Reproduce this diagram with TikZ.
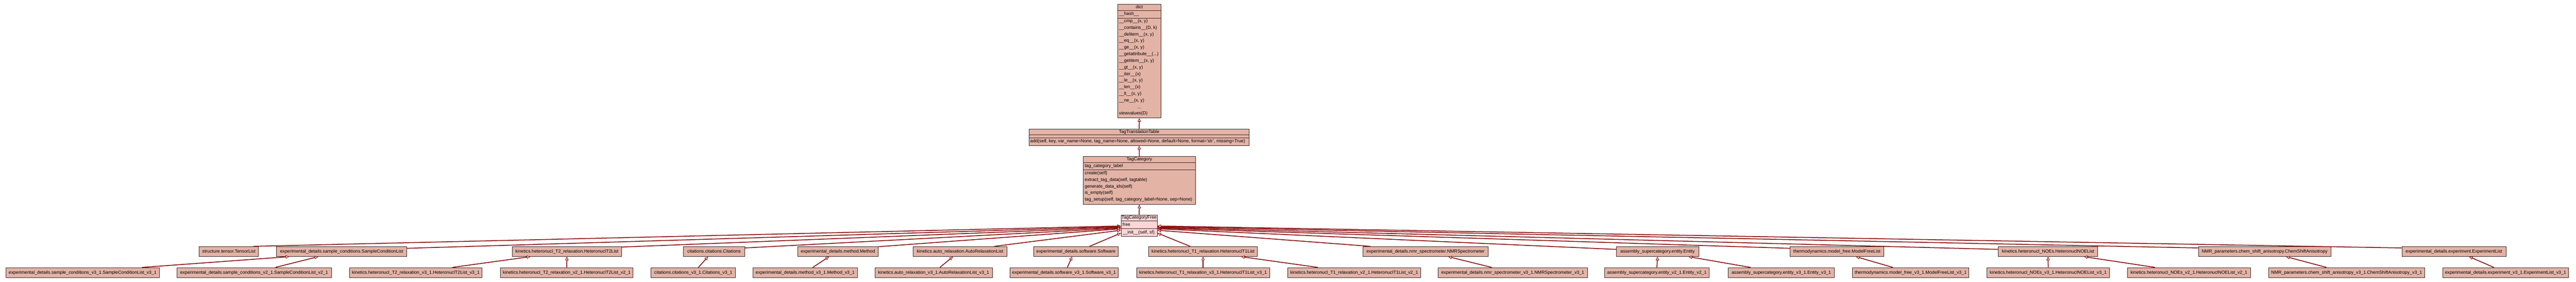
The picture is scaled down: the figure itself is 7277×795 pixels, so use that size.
\documentclass[tikz,border=0pt]{standalone}
\usepackage{fontspec}
\setmainfont{Liberation Sans}
\usetikzlibrary{arrows.meta}

\definecolor{clsfill}{HTML}{E3B3A6}
\definecolor{freefill}{HTML}{FFD5D5}
\definecolor{edgered}{HTML}{850000}
\definecolor{boxline}{HTML}{3A2E2E}

\begin{document}
\begin{tikzpicture}[x=1pt,y=-1pt,
  cls/.style={draw=boxline,line width=1.2pt,fill=clsfill,inner sep=0pt,minimum height=28pt,font=\fontsize{12.8}{15}\selectfont},
  umlbox/.style={draw=boxline,line width=1.2pt,fill=clsfill,inner sep=0pt},
  member/.style={anchor=west,inner sep=0pt,text height=9pt,text depth=3pt,font=\fontsize{12.8}{15}\selectfont},
  clsname/.style={member,anchor=center},
  divider/.style={draw=boxline,line width=1.2pt},
  inh/.style={draw=edgered,line width=2.2pt,-{Triangle[fill=white,length=10pt,width=9pt,line width=1.3pt]}}]
\useasboundingbox[fill=white] (0,0) rectangle (7277,795);

% dict
\node[umlbox,minimum width=123pt,minimum height=321pt] (dict) at (3218.5,172.5) {};
\draw[divider] (3157,29) -- (3280,29);
\draw[divider] (3157,51) -- (3280,51);
\node[clsname] (dictname) at (3218.5,20.5) {dict};
\node[member] (dicta1) at (3161,40) {\_\_hash\_\_};
\node[member] (dictm1) at (3161,60) {\_\_cmp\_\_(x, y)};
\node[member] (dictm2) at (3161,79) {\_\_contains\_\_(D, k)};
\node[member] (dictm3) at (3161,97.5) {\_\_delitem\_\_(x, y)};
\node[member] (dictm4) at (3161,116) {\_\_eq\_\_(x, y)};
\node[member] (dictm5) at (3161,135) {\_\_ge\_\_(x, y)};
\node[member] (dictm6) at (3161,153.5) {\_\_getattribute\_\_(...)};
\node[member] (dictm7) at (3161,172) {\_\_getitem\_\_(x, y)};
\node[member] (dictm8) at (3161,191) {\_\_gt\_\_(x, y)};
\node[member] (dictm9) at (3161,209.5) {\_\_iter\_\_(x)};
\node[member] (dictm10) at (3161,228) {\_\_le\_\_(x, y)};
\node[member] (dictm11) at (3161,247) {\_\_len\_\_(x)};
\node[member] (dictm12) at (3161,265.5) {\_\_lt\_\_(x, y)};
\node[member] (dictm13) at (3161,284) {\_\_ne\_\_(x, y)};
\node[clsname] (dictdots) at (3218.5,303) {...};
\node[member] (dictm14) at (3161,321.5) {viewvalues(D)};

% TagTranslationTable
\node[umlbox,minimum width=622pt,minimum height=47pt] (ttt) at (3218,387.5) {};
\draw[divider] (2907,381) -- (3529,381);
\draw[divider] (2907,389) -- (3529,389);
\node[clsname] (tttname) at (3218,372.5) {TagTranslationTable};
\node[member] (tttm1) at (2910,400) {add(self, key, var\_name=None, tag\_name=None, allowed=None, default=None, format='str', missing=True)};

% TagCategory
\node[umlbox,minimum width=317pt,minimum height=135pt] (tagcat) at (3218.5,509.5) {};
\draw[divider] (3060,459) -- (3377,459);
\draw[divider] (3060,480) -- (3377,480);
\node[clsname] (tagcatname) at (3218.5,450.5) {TagCategory};
\node[member] (tagcata1) at (3064,469.5) {tag\_category\_label};
\node[member] (tagcatm1) at (3064,490) {create(self)};
\node[member] (tagcatm2) at (3064,508.5) {extract\_tag\_data(self, tagtable)};
\node[member] (tagcatm3) at (3064,527) {generate\_data\_ids(self)};
\node[member] (tagcatm4) at (3064,545.5) {is\_empty(self)};
\node[member] (tagcatm5) at (3064,564) {tag\_setup(self, tag\_category\_label=None, sep=None)};

% TagCategoryFree
\node[umlbox,fill=freefill,minimum width=102pt,minimum height=60pt] (free) at (3218,637) {};
\draw[divider] (3167,624) -- (3269,624);
\draw[divider] (3167,646) -- (3269,646);
\node[clsname] (freename) at (3218,615.5) {TagCategoryFree};
\node[member] (freea1) at (3171,635) {free};
\node[member] (freem1) at (3171,656.5) {\_\_init\_\_(self, sf)};

\draw[inh] (ttt.north) -- (dict.south);
\draw[inh] (tagcat.north) -- (ttt.south);
\draw[inh] (free.north) -- (tagcat.south);

% first row
\node[cls,minimum width=167pt] (tensor) at (646.5,710) {structure.tensor.TensorList};
\node[cls,minimum width=368pt] (sample) at (965,710) {experimental\_details.sample\_conditions.SampleConditionList};
\node[cls,minimum width=309pt] (htwo) at (1601.5,710) {kinetics.heteronucl\_T2\_relaxation.HeteronuclT2List};
\node[cls,minimum width=172pt] (cite) at (2017,710) {citations.citations.Citations};
\node[cls,minimum width=228pt] (method) at (2367,710) {experimental\_details.method.Method};
\node[cls,minimum width=264pt] (auto) at (2712,710) {kinetics.auto\_relaxation.AutoRelaxationList};
\node[cls,minimum width=239pt] (soft) at (3039.5,710) {experimental\_details.software.Software};
\node[cls,minimum width=307pt] (hone) at (3398.5,710) {kinetics.heteronucl\_T1\_relaxation.HeteronuclT1List};
\node[cls,minimum width=354pt] (nmr) at (4027,710) {experimental\_details.nmr\_spectrometer.NMRSpectrometer};
\node[cls,minimum width=233pt] (entity) at (4682.5,710) {assembly\_supercategory.entity.Entity};
\node[cls,minimum width=264pt] (mfree) at (5189,710) {thermodynamics.model\_free.ModelFreeList};
\node[cls,minimum width=281pt] (noe) at (5785.5,710) {kinetics.heteronucl\_NOEs.HeteronuclNOEList};
\node[cls,minimum width=375pt] (csa) at (6397.5,710) {NMR\_parameters.chem\_shift\_anisotropy.ChemShiftAnisotropy};
\node[cls,minimum width=294pt] (expt) at (6932,710) {experimental\_details.experiment.ExperimentList};

% second row
\node[cls,minimum width=435pt] (samplethree) at (233.5,769.5) {experimental\_details.sample\_conditions\_v3\_1.SampleConditionList\_v3\_1};
\node[cls,minimum width=436pt] (sampletwo) at (718,769.5) {experimental\_details.sample\_conditions\_v2\_1.SampleConditionList\_v2\_1};
\node[cls,minimum width=375pt] (htwothree) at (1174.5,769.5) {kinetics.heteronucl\_T2\_relaxation\_v3\_1.HeteronuclT2List\_v3\_1};
\node[cls,minimum width=374pt] (htwotwo) at (1601,769.5) {kinetics.heteronucl\_T2\_relaxation\_v2\_1.HeteronuclT2List\_v2\_1};
\node[cls,minimum width=239pt] (citethree) at (1958.5,769.5) {citations.citations\_v3\_1.Citations\_v3\_1};
\node[cls,minimum width=295pt] (methodthree) at (2274.5,769.5) {experimental\_details.method\_v3\_1.Method\_v3\_1};
\node[cls,minimum width=331pt] (autothree) at (2637.5,769.5) {kinetics.auto\_relaxation\_v3\_1.AutoRelaxationList\_v3\_1};
\node[cls,minimum width=306pt] (softthree) at (3006,769.5) {experimental\_details.software\_v3\_1.Software\_v3\_1};
\node[cls,minimum width=375pt] (honethree) at (3398.5,769.5) {kinetics.heteronucl\_T1\_relaxation\_v3\_1.HeteronuclT1List\_v3\_1};
\node[cls,minimum width=375pt] (honetwo) at (3825.5,769.5) {kinetics.heteronucl\_T1\_relaxation\_v2\_1.HeteronuclT1List\_v2\_1};
\node[cls,minimum width=421pt] (nmrthree) at (4273.5,769.5) {experimental\_details.nmr\_spectrometer\_v3\_1.NMRSpectrometer\_v3\_1};
\node[cls,minimum width=295pt] (entitytwo) at (4680.5,769.5) {assembly\_supercategory.entity\_v2\_1.Entity\_v2\_1};
\node[cls,minimum width=300pt] (entitythree) at (5032,769.5) {assembly\_supercategory.entity\_v3\_1.Entity\_v3\_1};
\node[cls,minimum width=329pt] (mfreethree) at (5397.5,769.5) {thermodynamics.model\_free\_v3\_1.ModelFreeList\_v3\_1};
\node[cls,minimum width=346pt] (noethree) at (5786,769.5) {kinetics.heteronucl\_NOEs\_v3\_1.HeteronuclNOEList\_v3\_1};
\node[cls,minimum width=347pt] (noetwo) at (6183.5,769.5) {kinetics.heteronucl\_NOEs\_v2\_1.HeteronuclNOEList\_v2\_1};
\node[cls,minimum width=442pt] (csathree) at (6629,769.5) {NMR\_parameters.chem\_shift\_anisotropy\_v3\_1.ChemShiftAnisotropy\_v3\_1};
\node[cls,minimum width=354pt] (exptthree) at (7078,769.5) {experimental\_details.experiment\_v3\_1.ExperimentList\_v3\_1};

% first row to TagCategoryFree
\draw[inh] ([xshift=69.5pt]tensor.north) -- ([yshift=-1pt]free.west);
\draw[inh] ([yshift=9pt]sample.east) -- ([yshift=-3pt]free.west);
\draw[inh] ([yshift=-2pt]htwo.north east) -- ([yshift=-5pt]free.west);
\draw[inh] ([yshift=10pt]cite.east) -- ([yshift=-7pt]free.west);
\draw[inh] ([yshift=-1pt]method.north east) -- ([yshift=-9pt]free.west);
\draw[inh] ([xshift=97pt]auto.north) -- ([yshift=-13pt]free.west);
\draw[inh] ([xshift=38.5pt]soft.north) -- ([yshift=-21pt]free.west);
\draw[inh] ([xshift=-36.5pt]hone.north) -- ([yshift=-21pt]free.east);
\draw[inh] ([xshift=-156pt]nmr.north) -- ([yshift=-13pt]free.east);
\draw[inh] ([yshift=6pt]entity.west) -- ([yshift=-9pt]free.east);
\draw[inh] ([yshift=9pt]mfree.west) -- ([yshift=-7pt]free.east);
\draw[inh] ([yshift=6pt]noe.west) -- ([yshift=-5pt]free.east);
\draw[inh] ([yshift=10pt]csa.west) -- ([yshift=-3pt]free.east);
\draw[inh] ([yshift=10pt]expt.west) -- ([yshift=-1pt]free.east);

% second row to first row
\draw[inh] ([xshift=167.5pt]samplethree.north) -- ([xshift=-148pt]sample.south);
\draw[inh] ([xshift=60pt]sampletwo.north) -- ([xshift=-66pt]sample.south);
\draw[inh] ([xshift=103.5pt]htwothree.north) -- ([xshift=-103.5pt]htwo.south);
\draw[inh] (htwotwo.north) -- (htwo.south);
\draw[inh] ([xshift=14.5pt]citethree.north) -- ([xshift=-17pt]cite.south);
\draw[inh] ([xshift=21.5pt]methodthree.north) -- ([xshift=-25pt]method.south);
\draw[inh] ([xshift=17.5pt]autothree.north) -- ([xshift=-20pt]auto.south);
\draw[inh] ([xshift=9pt]softthree.north) -- ([xshift=-10.5pt]soft.south);
\draw[inh] (honethree.north) -- (hone.south);
\draw[inh] ([xshift=-102.5pt]honetwo.north) -- ([xshift=107.5pt]hone.south);
\draw[inh] ([xshift=-59.5pt]nmrthree.north) -- ([xshift=64pt]nmr.south);
\draw[inh] (entitytwo.north) -- (entity.south);
\draw[inh] ([xshift=-87pt]entitythree.north) -- ([xshift=87.5pt]entity.south);
\draw[inh] ([xshift=-50.5pt]mfreethree.north) -- ([xshift=54pt]mfree.south);
\draw[inh] (noethree.north) -- (noe.south);
\draw[inh] ([xshift=-95.5pt]noetwo.north) -- ([xshift=101.5pt]noe.south);
\draw[inh] ([xshift=-57pt]csathree.north) -- ([xshift=60.5pt]csa.south);
\draw[inh] ([xshift=-33pt]exptthree.north) -- ([xshift=43pt]expt.south);

\end{tikzpicture}
\end{document}
